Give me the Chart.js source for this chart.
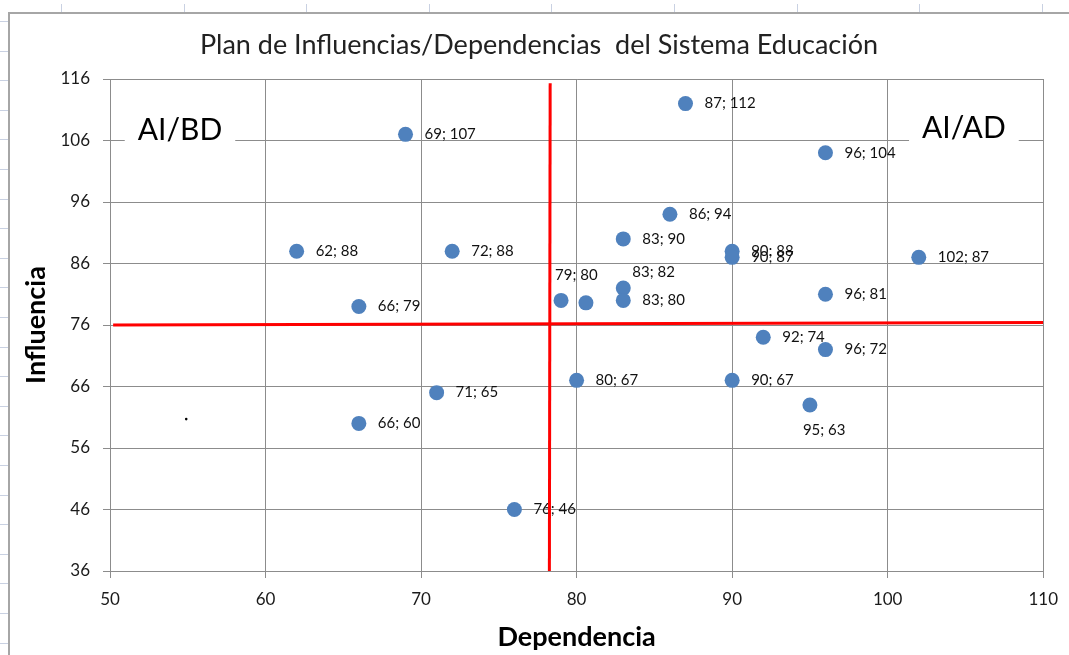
<!DOCTYPE html>
<html>
<head>
<meta charset="utf-8">
<script src="https://cdn.jsdelivr.net/npm/chart.js@4.4.1/dist/chart.umd.min.js"></script>
<style>
html, body { margin: 0; padding: 0; background: #fff; }
#wrap { width: 1069px; height: 655px; position: relative; }
</style>
</head>
<body>
<div id="wrap"><canvas id="chart" width="1069" height="655"></canvas></div>
<script>
// Points: dependencia (x) / influencia (y)
const dependencia = [87, 69, 96, 86, 62, 72, 83, 90, 90, 102, 79, 80.6, 83, 83, 96, 66, 92, 96, 80, 90, 71, 95, 66, 76];
const influencia = [112, 107, 104, 94, 88, 88, 90, 88, 87, 87, 80, 79.6, 82, 80, 81, 79, 74, 72, 67, 67, 65, 63, 60, 46];
const pointLabels = ["87; 112", "69; 107", "96; 104", "86; 94", "62; 88", "72; 88", "83; 90", "90; 88", "90; 87", "102; 87",
    "79; 80", "", "83; 82", "83; 80", "96; 81", "66; 79", "92; 74", "96; 72", "80; 67", "90; 67", "71; 65", "95; 63", "66; 60", "76; 46"];
// label placement (pixels from point centre to text left / middle), default is right of the point
const labelShift = { 10: [-6, -25], 12: [9, -16], 21: [-7, 25] };

// red cut lines
const vLineX = [78.25, 78.3];
const vLineY = [36, 115.3];
const hLineX = [50.2, 110];
const hLineY = [76.0, 76.4];

// stray dot on the sheet
const strayX = [54.9];
const strayY = [60.7];

// quadrant names
const quadrantText = ["AI/BD", "AI/AD"];
const quadrantX = [54.5, 104.9];
const quadrantY = [107.7, 108.0];

const xTicks = [50, 60, 70, 80, 90, 100, 110];
const yTicks = [36, 46, 56, 66, 76, 86, 96, 106, 116];

const FONT = "Lato, 'Open Sans', sans-serif";
const zip = (xs, ys) => xs.map((x, i) => ({ x: x, y: ys[i] }));

const sheetFrame = {
    id: "sheetFrame",
    beforeDraw(chart) {
        const ctx = chart.ctx;
        ctx.save();
        ctx.fillStyle = "#fff";
        ctx.fillRect(0, 0, chart.width, chart.height);
        ctx.strokeStyle = "#c9d1e2";
        ctx.lineWidth = 1;
        for (let x = 61; x < chart.width; x += 122.6) {
            ctx.beginPath(); ctx.moveTo(Math.round(x) + 0.5, 4); ctx.lineTo(Math.round(x) + 0.5, 12); ctx.stroke();
        }
        for (let y = 21; y < chart.height; y += 29.6) {
            ctx.beginPath(); ctx.moveTo(0, Math.round(y) + 0.5); ctx.lineTo(8, Math.round(y) + 0.5); ctx.stroke();
        }
        ctx.strokeStyle = "#a6a6a6";
        ctx.lineWidth = 2;
        ctx.beginPath();
        ctx.moveTo(9, chart.height);
        ctx.lineTo(9, 13);
        ctx.lineTo(chart.width, 13);
        ctx.stroke();
        ctx.restore();
    }
};

const quadrants = {
    id: "quadrants",
    beforeDatasetsDraw(chart) {
        const ctx = chart.ctx;
        const xs = chart.scales.x, ys = chart.scales.y;
        ctx.save();
        ctx.font = "30px " + FONT;
        ctx.textAlign = "center";
        ctx.textBaseline = "middle";
        quadrantText.forEach((t, i) => {
            const px = xs.getPixelForValue(quadrantX[i]);
            const py = ys.getPixelForValue(quadrantY[i]);
            const w = ctx.measureText(t).width + 26;
            ctx.fillStyle = "#fff";
            ctx.fillRect(px - w / 2, py - 20, w, 40);
            ctx.fillStyle = "#000";
            ctx.fillText(t, px, py);
        });
        ctx.restore();
    }
};

const pointText = {
    id: "pointText",
    afterDatasetDraw(chart, args) {
        if (args.index !== 3) return;
        const ctx = chart.ctx;
        ctx.save();
        ctx.font = "15px " + FONT;
        ctx.fillStyle = "#111";
        ctx.textAlign = "left";
        ctx.textBaseline = "middle";
        args.meta.data.forEach((el, i) => {
            if (!pointLabels[i]) return;
            const s = labelShift[i] || [19, 0];
            ctx.fillText(pointLabels[i], el.x + s[0], el.y + s[1]);
        });
        ctx.restore();
    }
};

new Chart(document.getElementById("chart"), {
    type: "scatter",
    data: {
        datasets: [
            { data: zip(vLineX, vLineY), showLine: true, borderColor: "#ff0000", borderWidth: 3, pointRadius: 0 },
            { data: zip(hLineX, hLineY), showLine: true, borderColor: "#ff0000", borderWidth: 3, pointRadius: 0 },
            { data: zip(strayX, strayY), backgroundColor: "#000", borderWidth: 0, pointRadius: 1.3 },
            { data: zip(dependencia, influencia), backgroundColor: "#4f81bd", borderWidth: 0, pointRadius: 7.5 }
        ]
    },
    options: {
        responsive: false,
        animation: false,
        layout: { padding: { left: 33, right: 24, top: 0, bottom: 0 } },
        plugins: {
            legend: { display: false },
            tooltip: { enabled: false },
            title: {
                display: true,
                text: "Plan de Influencias/Dependencias  del Sistema Educación",
                color: "#222",
                font: { family: FONT, size: 27, weight: "normal" },
                padding: { top: 29, bottom: 17.6 }
            }
        },
        scales: {
            x: {
                type: "linear",
                min: 50, max: 110,
                afterBuildTicks: s => { s.ticks = xTicks.map(v => ({ value: v })); },
                afterFit: s => { s.height = 84; },
                grid: { color: "#8c8c8c", tickLength: 7 },
                border: { color: "#8c8c8c" },
                ticks: { color: "#1a1a1a", padding: 11, maxRotation: 0, font: { family: FONT, size: 17 } },
                title: {
                    display: true, text: "Dependencia", color: "#000",
                    font: { family: FONT, size: 27, weight: "bold" },
                    padding: { top: 0, bottom: 2 }
                }
            },
            y: {
                type: "linear",
                min: 36, max: 116,
                afterBuildTicks: s => { s.ticks = yTicks.map(v => ({ value: v })); },
                afterFit: s => { s.width = 77; },
                grid: { color: "#8c8c8c", tickLength: 7 },
                border: { color: "#8c8c8c" },
                ticks: { color: "#1a1a1a", padding: 13, font: { family: FONT, size: 17 } },
                title: {
                    display: true, text: "Influencia", color: "#000",
                    font: { family: FONT, size: 27, weight: "bold" },
                    padding: { top: -13, bottom: 0 }
                }
            }
        }
    },
    plugins: [sheetFrame, quadrants, pointText]
});
</script>
</body>
</html>
